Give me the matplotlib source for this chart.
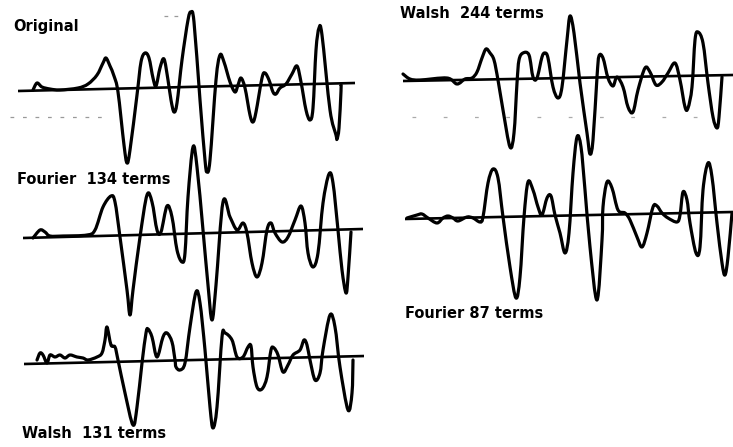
import matplotlib.pyplot as plt
from matplotlib.path import Path
from matplotlib.patches import PathPatch

# Seismic trace and its reconstructions (time sample, amplitude), baseline = 0
orig_t = [15, 19, 24, 32, 42, 60, 70, 79, 85, 88, 92, 96, 100, 106, 109, 112, 119, 123, 127, 131,
          135, 138, 142, 146, 150, 153, 156, 159, 164, 170, 173, 176, 182, 187, 189, 192, 198, 202,
          206, 212, 217, 220, 223, 227, 232, 235, 238, 244, 247, 251, 255, 258, 262, 268, 274, 279,
          283, 288, 292, 295, 298, 301, 304, 312, 318, 319, 321, 323, 323]
orig_amp = [1, 8, 4, 2, 1, 3, 7, 16, 28, 33, 25, 15, -1, -54, -72, -59, -4, 29, 38, 33,
            13, 5, 23, 32, 11, -9, -21, -12, 31, 71, 79, 69, -9, -69, -81, -69, 11, 36,
            29, 9, -1, 6, 13, 3, -24, -31, -21, 13, 18, 11, -1, -3, 3, 7, 17, 25,
            9, -19, -29, -17, 41, 63, 56, -19, -44, -48, -37, 0, 6]

f134_t = [10, 17, 22, 27, 40, 64, 72, 80, 88, 92, 97, 104, 107, 110, 117, 124, 129, 134, 138, 144,
          149, 154, 159, 162, 165, 170, 174, 180, 185, 189, 193, 200, 207, 214, 220, 224, 229, 234,
          239, 244, 248, 252, 259, 265, 272, 278, 282, 285, 290, 295, 300, 306, 310, 315, 319, 323,
          325, 328]
f134_amp = [0, 8, 6, 2, 2, 3, 8, 31, 42, 36, 1, -52, -77, -52, 1, 43, 36, 8, 6, 32,
            21, -12, -24, -15, 41, 91, 71, 8, -47, -82, -47, 36, 21, 8, 15, 5, -25, -39,
            -25, 8, 15, 5, -4, 1, 18, 32, 15, -15, -29, -15, 35, 64, 55, 8, -32, -55,
            -39, 6]

w131_t = [13, 16, 19, 23, 26, 31, 36, 41, 46, 53, 59, 64, 73, 78, 81, 83, 87, 91, 94, 101,
          109, 113, 118, 122, 124, 128, 133, 139, 143, 148, 151, 152, 156, 161, 166, 172, 176, 181,
          186, 189, 193, 198, 201, 208, 213, 219, 224, 227, 229, 233, 238, 243, 247, 250, 254, 259,
          264, 269, 276, 280, 283, 286, 291, 296, 299, 306, 311, 316, 324, 328, 329]
w131_amp = [4, 11, 9, 1, 9, 7, 9, 6, 9, 7, 6, 4, 7, 11, 24, 37, 19, 17, 4, -29,
            -61, -43, 1, 31, 35, 27, 7, 27, 31, 22, 4, -3, -6, 1, 37, 72, 61, 14,
            -43, -64, -43, 27, 31, 24, 7, 7, 17, 18, -3, -23, -25, -13, 14, 16, 9, -8,
            -1, 9, 14, 24, 19, 4, -16, -9, 14, 49, 37, -3, -46, -29, 4]

w244_t = [0, 7, 17, 44, 54, 62, 69, 74, 79, 83, 87, 91, 95, 100, 107, 111, 114, 116, 120, 126,
          130, 134, 139, 142, 145, 150, 155, 159, 164, 167, 171, 177, 184, 187, 190, 194, 196, 200,
          205, 210, 214, 220, 225, 230, 235, 242, 247, 253, 259, 265, 272, 277, 282, 285, 289, 292,
          295, 300, 305, 310, 314, 316, 319]
w244_amp = [7, 2, 1, 3, -3, 2, 3, 9, 23, 32, 28, 21, 1, -29, -66, -52, -2, 21, 28, 26,
            4, 3, 24, 28, 23, -6, -17, -6, 41, 65, 48, -2, -52, -73, -59, 4, 25, 23,
            3, -5, 4, -6, -26, -31, -9, 13, 9, -4, -1, 8, 18, 1, -26, -27, -6, 41,
            49, 38, -2, -36, -47, -36, 4]

f87_t = [2, 12, 17, 23, 32, 38, 43, 48, 53, 62, 68, 75, 78, 83, 88, 93, 98, 105, 111, 115,
         119, 123, 128, 133, 137, 142, 146, 150, 155, 160, 164, 168, 172, 176, 180, 185, 192, 197,
         198, 202, 207, 213, 220, 225, 232, 237, 242, 248, 252, 257, 263, 272, 275, 278, 282, 285,
         291, 295, 298, 303, 307, 312, 317, 320, 323, 327]
f87_amp = [1, 4, 5, 1, -4, 1, 3, 1, -2, 2, 1, -3, 2, 36, 50, 41, 2, -48, -79, -58,
           2, 37, 29, 12, 4, 21, 23, 4, -14, -34, -14, 46, 82, 72, 29, -28, -81, -21,
           12, 37, 31, 9, 6, -1, -18, -28, -14, 12, 13, 6, 1, -3, 4, 27, 19, -4,
           -34, -28, 29, 56, 42, -4, -44, -56, -38, 6]

# baseline drift at the two ends of each record
orig_base = [0, 8]
f134_base = [0, 9]
w131_base = [0, 8]
w244_base = [0, 6]
f87_base = [0, 7]
base_t = [0, 337, 340, 341, 330, 328]

W, H = 733, 447
fig = plt.figure(figsize=(W / 100, H / 100), dpi=100)


def smooth_path(t, amp):
    # Catmull-Rom curve through the samples, written as cubic Bezier segments
    pts = list(zip(t, amp))
    verts = [pts[0]]
    codes = [Path.MOVETO]
    n = len(pts)
    for i in range(n - 1):
        p0 = pts[max(i - 1, 0)]
        p1 = pts[i]
        p2 = pts[i + 1]
        p3 = pts[min(i + 2, n - 1)]
        c1 = (p1[0] + (p2[0] - p0[0]) / 6, p1[1] + (p2[1] - p0[1]) / 6)
        c2 = (p2[0] - (p3[0] - p1[0]) / 6, p2[1] - (p3[1] - p1[1]) / 6)
        verts += [c1, c2, p2]
        codes += [Path.CURVE4] * 3
    return Path(verts, codes)


def panel(left, base_y, t, amp, base_end_t, base_amp):
    # axes positioned in pixels: 340 samples wide, +-100 amplitude tall
    ax = fig.add_axes([left / W, (H - base_y - 100) / H, 340 / W, 200 / H])
    ax.set_xlim(0, 340)
    ax.set_ylim(-100, 100)
    ax.axis("off")
    ax.plot([0, base_end_t], base_amp, color="black", lw=1.9, solid_capstyle="butt")
    ax.add_patch(PathPatch(smooth_path(t, amp), facecolor="none", edgecolor="black",
                           lw=2.3, joinstyle="round", capstyle="round", clip_on=False))
    return ax


panel(18, 91, orig_t, orig_amp, base_t[1], orig_base)
panel(23, 238, f134_t, f134_amp, base_t[2], f134_base)
panel(24, 364, w131_t, w131_amp, base_t[3], w131_base)
panel(403, 81, w244_t, w244_amp, base_t[4], w244_base)
panel(405, 219, f87_t, f87_amp, base_t[5], f87_base)

# faint dashed scan rules
rule = fig.add_axes([0, 0, 1, 1])
rule.set_xlim(0, W)
rule.set_ylim(H, 0)
rule.axis("off")
rule.plot([10, 110], [117, 117], color="#999999", lw=0.9, ls=(0, (3, 7)))
rule.plot([412, 722], [117, 117], color="#aaaaaa", lw=0.9, ls=(0, (3, 22)))
rule.plot([164, 184], [16, 16], color="#999999", lw=0.9, ls=(0, (3, 5)))

lbl = dict(fontsize=10.5, fontweight="heavy", family="DejaVu Sans", va="center", ha="left")
fig.text(13 / W, 1 - 27 / H, "Original", **lbl)
fig.text(17 / W, 1 - 179 / H, "Fourier  134 terms", **lbl)
fig.text(22 / W, 1 - 434 / H, "Walsh  131 terms", **lbl)
fig.text(400 / W, 1 - 14 / H, "Walsh  244 terms", **lbl)
fig.text(405 / W, 1 - 313 / H, "Fourier 87 terms", **lbl)

fig.savefig("out.png", dpi=100, facecolor="white")
